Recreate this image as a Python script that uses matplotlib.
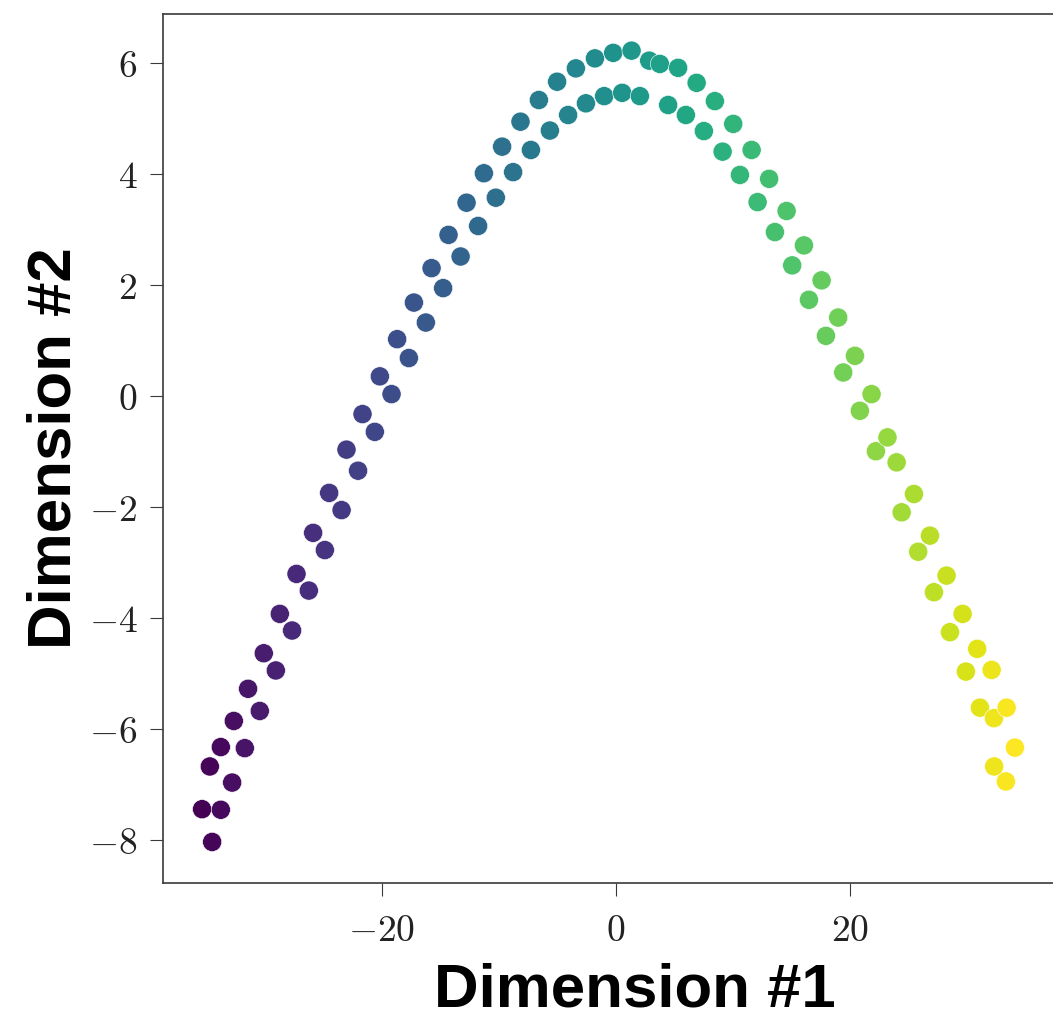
import matplotlib
matplotlib.use("Agg")
import matplotlib.pyplot as plt
from matplotlib.ticker import FuncFormatter, FixedLocator
import numpy as np

plt.rcParams['mathtext.fontset'] = 'cm'

dim1 = [-35.36, -34.70, -34.50, -33.76, -33.76, -32.79, -32.65, -31.71, -31.43, -30.43,
        -30.09, -29.06, -28.72, -27.67, -27.29, -26.24, -25.87, -24.87, -24.50, -23.44,
        -23.02, -22.03, -21.65, -20.60, -20.17, -19.17, -18.69, -17.69, -17.26, -16.24,
        -15.75, -14.76, -14.30, -13.27, -12.76, -11.77, -11.28, -10.26, -9.72, -8.78,
        -8.15, -7.26, -6.58, -5.64, -5.02, -4.08, -3.42, -2.56, -1.79, -1.00,
        -0.23, 0.54, 1.34, 2.05, 2.85, 3.76, 4.47, 5.32, 5.98, 6.90,
        7.52, 8.46, 9.12, 10.03, 10.60, 11.60, 12.11, 13.10, 13.59, 14.59,
        15.07, 16.07, 16.50, 17.58, 17.95, 19.00, 19.43, 20.43, 20.85, 21.85,
        22.22, 23.21, 23.99, 24.42, 25.47, 25.84, 26.84, 27.18, 28.26, 28.55,
        29.63, 29.91, 30.88, 31.11, 32.11, 32.31, 32.33, 33.39, 33.33, 34.10]
dim2 = [-7.44, -6.67, -8.03, -6.32, -7.45, -6.96, -5.85, -6.34, -5.27, -5.67,
        -4.63, -4.94, -3.92, -4.22, -3.20, -3.50, -2.46, -2.77, -1.74, -2.05,
        -0.96, -1.34, -0.32, -0.64, 0.36, 0.04, 1.03, 0.69, 1.69, 1.33,
        2.31, 1.95, 2.91, 2.52, 3.49, 3.07, 4.02, 3.58, 4.50, 4.04,
        4.95, 4.44, 5.34, 4.79, 5.67, 5.07, 5.91, 5.28, 6.09, 5.41,
        6.19, 5.47, 6.23, 5.41, 6.05, 5.99, 5.25, 5.92, 5.07, 5.65,
        4.78, 5.32, 4.41, 4.91, 3.99, 4.44, 3.50, 3.92, 2.96, 3.34,
        2.36, 2.72, 1.74, 2.09, 1.09, 1.42, 0.43, 0.73, -0.26, 0.04,
        -0.99, -0.74, -1.19, -2.09, -1.76, -2.80, -2.51, -3.53, -3.23, -4.25,
        -3.92, -4.96, -4.55, -5.61, -4.93, -5.80, -6.67, -5.61, -6.94, -6.33]

xticks = [-20, 0, 20]
yticks = [-8, -6, -4, -2, 0, 2, 4, 6]
xlabel = "Dimension #1"
ylabel = "Dimension #2"

W, H = 1053, 1021
fig = plt.figure(figsize=(W / 100, H / 100), dpi=100)
L, R, T, B = 163, 1107, 14, 883
ax = fig.add_axes([L / W, (H - B) / H, (R - L) / W, (B - T) / H])

ax.scatter(dim1, dim2, c=dim1, cmap='viridis', s=190,
           edgecolors='white', linewidths=0.4, zorder=3)

ax.set_xlim(-38.7, 41.97)
ax.set_ylim(-8.77, 6.89)

ax.xaxis.set_major_locator(FixedLocator(xticks))
ax.yaxis.set_major_locator(FixedLocator(yticks))
fmt = FuncFormatter(lambda v, p: r'$%d$' % v)
ax.xaxis.set_major_formatter(fmt)
ax.yaxis.set_major_formatter(fmt)

for s in ax.spines.values():
    s.set_color('#3a3a3a')
    s.set_linewidth(1.2)

ax.tick_params(axis='both', direction='out', length=9.5, width=0.8,
               color='#3a3a3a', labelsize=27, labelcolor='#222222')
ax.tick_params(axis='y', pad=9)
ax.tick_params(axis='x', pad=12)

ax.set_xlabel(xlabel, fontsize=44.5, fontweight='bold', family='Liberation Sans')
ax.set_ylabel(ylabel, fontsize=44.5, fontweight='bold', family='Liberation Sans')
ax.xaxis.set_label_coords(0.5, -0.092)
ax.yaxis.set_label_coords(-0.084, 0.5)

fig.savefig('out.png', dpi=100)
